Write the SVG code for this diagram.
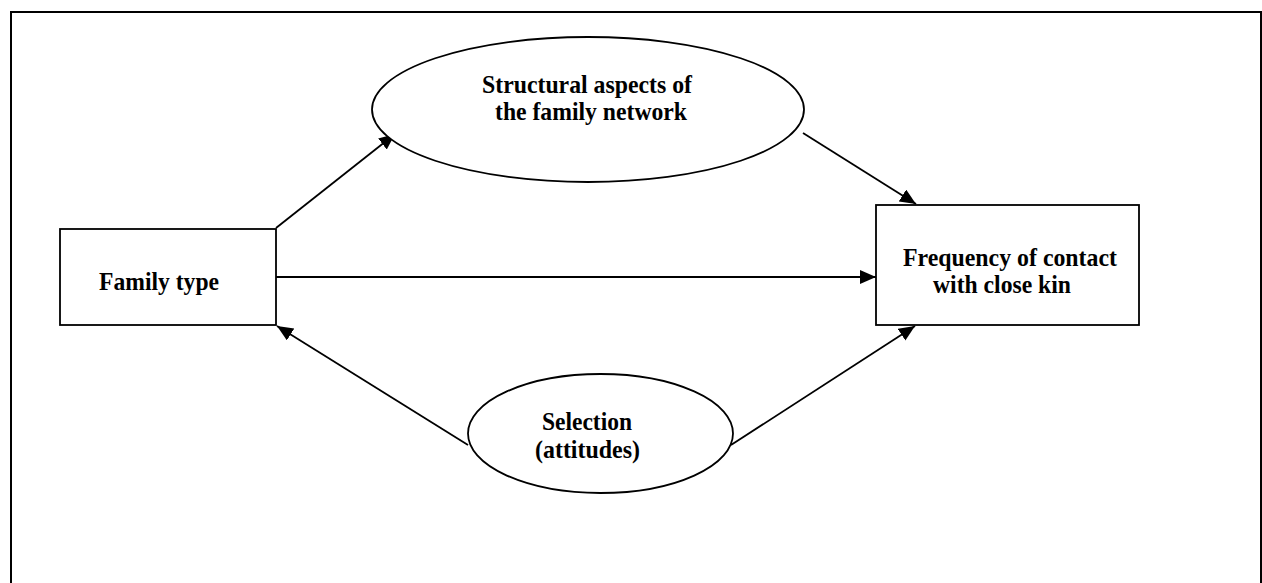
<svg xmlns="http://www.w3.org/2000/svg" width="1262" height="583" viewBox="0 0 1262 583">
<style>
.shape{fill:#fff;stroke:#000;stroke-width:1.8}
.lbl{font-family:"Liberation Serif","Times New Roman",serif;font-weight:bold;font-size:25px;fill:#000}
.conn{stroke:#000;stroke-width:1.8;fill:none;marker-end:url(#ah)}
</style>
<defs>
<marker id="ah" markerUnits="userSpaceOnUse" markerWidth="17" markerHeight="15" refX="16" refY="7" orient="auto">
<path d="M0,0 L16,7 L0,14 Z" fill="#000"/>
</marker>
</defs>
<rect x="0" y="0" width="1262" height="583" fill="#fff"/>
<path d="M11,590 L11,12 L1261,12 L1261,590" fill="none" stroke="#000" stroke-width="2"/>
<g id="connectors">
<line class="conn" x1="276" y1="228" x2="395" y2="134"/>
<line class="conn" x1="803" y1="133" x2="916" y2="204"/>
<line class="conn" x1="276" y1="277" x2="876" y2="277"/>
<line class="conn" x1="468" y1="445" x2="277" y2="326"/>
<line class="conn" x1="731" y1="445" x2="915" y2="326"/>
</g>
<g id="family-type">
<rect class="shape" x="60" y="229" width="216" height="96"/>
<text class="lbl" x="99" y="290" textLength="120" lengthAdjust="spacingAndGlyphs">Family type</text>
</g>
<g id="structural">
<ellipse class="shape" cx="588" cy="109.5" rx="216" ry="72.5"/>
<text class="lbl" x="482" y="93" textLength="210" lengthAdjust="spacingAndGlyphs">Structural aspects of</text>
<text class="lbl" x="495" y="120" textLength="192" lengthAdjust="spacingAndGlyphs">the family network</text>
</g>
<g id="frequency">
<rect class="shape" x="876" y="205" width="263" height="120"/>
<text class="lbl" x="903" y="266" textLength="214" lengthAdjust="spacingAndGlyphs">Frequency of contact</text>
<text class="lbl" x="933" y="293" textLength="138" lengthAdjust="spacingAndGlyphs">with close kin</text>
</g>
<g id="selection">
<ellipse class="shape" cx="600.5" cy="433.5" rx="132.5" ry="59.5"/>
<text class="lbl" x="542" y="430" textLength="90" lengthAdjust="spacingAndGlyphs">Selection</text>
<text class="lbl" x="535" y="458" textLength="105" lengthAdjust="spacingAndGlyphs">(attitudes)</text>
</g>
</svg>
